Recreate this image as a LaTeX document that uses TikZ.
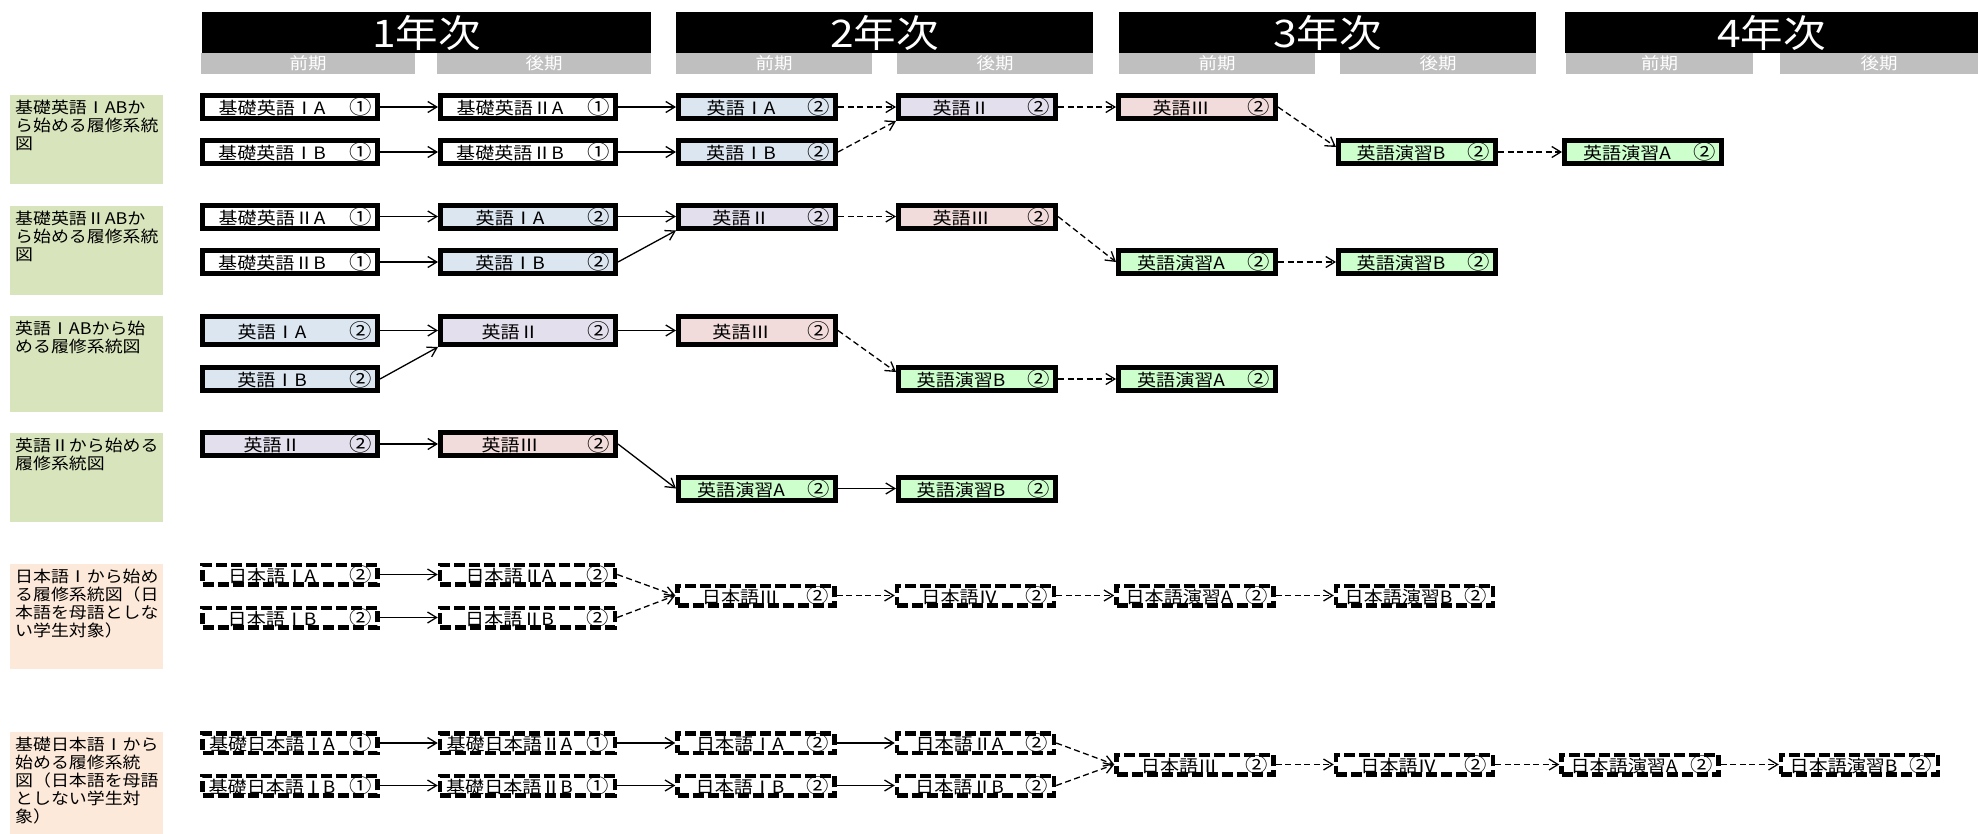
\documentclass[tikz,border=0pt]{standalone}
\usepackage{fontspec}
\setmainfont[FakeStretch=1.12]{Noto Sans CJK JP}
\usetikzlibrary{positioning, arrows.meta}
\definecolor{hdrgray}{RGB}{191,191,191}
\definecolor{lblgreen}{RGB}{216,228,188}
\definecolor{lblpeach}{RGB}{253,233,217}
\definecolor{e1blue}{RGB}{220,230,241}
\definecolor{e2lav}{RGB}{228,223,236}
\definecolor{e3pink}{RGB}{242,220,219}
\definecolor{ensgreen}{RGB}{204,255,204}
\newcommand{\kamoku}[2]{\makebox[0.78\linewidth][c]{#1}\hfill{\fontsize{20pt}{20pt}\selectfont#2}}
\tikzstyle{year} = [fill=black, text=white, inner sep=0pt, anchor=north west, minimum height=41pt, font=\fontsize{38pt}{42pt}\selectfont]
\tikzstyle{term} = [fill=hdrgray, text=white, inner sep=0pt, anchor=north west, minimum height=21pt, font=\fontsize{16.5pt}{18pt}\selectfont]
\tikzstyle{route} = [anchor=north west, text width=143pt, inner xsep=5pt, inner ysep=3pt, text height=15pt, align=left, font=\fontsize{16pt}{18pt}\selectfont]
\tikzstyle{course} = [draw=black, line width=5pt, inner xsep=6pt, inner ysep=1pt, minimum height=23pt, text width=145pt, font=\fontsize{17pt}{18pt}\selectfont]
\tikzstyle{wide} = [text width=163pt]
\tikzstyle{nihongo} = [course, fill=white, line width=4.5pt, dash pattern=on 11pt off 4pt, inner ysep=0pt, minimum height=19.5pt]
\tikzstyle{arrow} = [line width=1.3pt, -{Straight Barb[length=9pt,width=11pt]}]
\tikzstyle{darrow} = [arrow, dash pattern=on 6pt off 3.5pt]

\begin{document}
\begin{tikzpicture}
[x=1pt, y=-1pt, node distance=58pt]
\useasboundingbox (0,0) rectangle (1978,833);

% year headers
\node (y1) [year, minimum width=449pt] at (202,12) {1年次};
\node (y1f) [term, minimum width=214pt] at (201,53) {前期};
\node (y1l) [term, minimum width=214pt] at (437,53) {後期};
\node (y2) [year, minimum width=417pt] at (676,12) {2年次};
\node (y2f) [term, minimum width=196pt] at (676,53) {前期};
\node (y2l) [term, minimum width=196pt] at (897,53) {後期};
\node (y3) [year, minimum width=417pt] at (1119,12) {3年次};
\node (y3f) [term, minimum width=196pt] at (1119,53) {前期};
\node (y3l) [term, minimum width=196pt] at (1340,53) {後期};
\node (y4) [year, minimum width=413pt] at (1565,12) {4年次};
\node (y4f) [term, minimum width=187pt] at (1566,53) {前期};
\node (y4l) [term, minimum width=198pt] at (1780,53) {後期};

% route labels
\node (r1) [route, fill=lblgreen, text depth=68pt] at (10,95) {基礎英語ⅠABか\\ら始める履修系統\\図};
\node (r2) [route, fill=lblgreen, text depth=68pt] at (10,206) {基礎英語ⅡABか\\ら始める履修系統\\図};
\node (r3) [route, fill=lblgreen, text depth=75pt] at (10,316) {英語ⅠABから始\\める履修系統図};
\node (r4) [route, fill=lblgreen, text depth=68pt] at (10,433) {英語Ⅱから始める\\履修系統図};
\node (r5) [route, fill=lblpeach, text depth=84pt] at (10,564) {日本語Ⅰから始め\\る履修系統図（日\\本語を母語としな\\い学生対象）};
\node (r6) [route, fill=lblpeach, text depth=86pt] at (10,732) {基礎日本語Ⅰから\\始める履修系統\\図（日本語を母語\\としない学生対\\象）};

% group 1
\node (g1a1) [course, wide, fill=white] at (290,107) {\kamoku{基礎英語ⅠA}{①}};
\node (g1a2) [course, wide, fill=white, right=of g1a1] {\kamoku{基礎英語ⅡA}{①}};
\node (g1a3) [course, fill=e1blue, right=of g1a2] {\kamoku{英語ⅠA}{②}};
\node (g1a4) [course, fill=e2lav, right=of g1a3] {\kamoku{英語Ⅱ}{②}};
\node (g1a5) [course, fill=e3pink, right=of g1a4] {\kamoku{英語Ⅲ}{②}};
\node (g1b6) [course, fill=ensgreen, right=of g1a5, yshift=-45pt] {\kamoku{英語演習B}{②}};
\node (g1b7) [course, fill=ensgreen, right=of g1b6, xshift=6pt] {\kamoku{英語演習A}{②}};
\node (g1b1) [course, wide, fill=white] at (290,152) {\kamoku{基礎英語ⅠB}{①}};
\node (g1b2) [course, wide, fill=white, right=of g1b1] {\kamoku{基礎英語ⅡB}{①}};
\node (g1b3) [course, fill=e1blue, right=of g1b2] {\kamoku{英語ⅠB}{②}};

\draw [arrow] (g1a1) -- (g1a2);
\draw [arrow] (g1a2) -- (g1a3);
\draw [darrow] (g1a3) -- (g1a4);
\draw [darrow] (g1a4) -- (g1a5);
\draw [darrow] (g1a5.east) -- ([yshift=-9pt]g1b6.north west);
\draw [darrow] (g1b6) -- (g1b7);
\draw [arrow] (g1b1) -- (g1b2);
\draw [arrow] (g1b2) -- (g1b3);
\draw [darrow] (g1b3.east) -- (g1a4.south west);

% group 2
\node (g2a1) [course, wide, fill=white] at (290,216.5) {\kamoku{基礎英語ⅡA}{①}};
\node (g2a2) [course, wide, fill=e1blue, right=of g2a1] {\kamoku{英語ⅠA}{②}};
\node (g2a3) [course, fill=e2lav, right=of g2a2] {\kamoku{英語Ⅱ}{②}};
\node (g2a4) [course, fill=e3pink, right=of g2a3] {\kamoku{英語Ⅲ}{②}};
\node (g2b5) [course, fill=ensgreen, right=of g2a4, yshift=-45.5pt] {\kamoku{英語演習A}{②}};
\node (g2b6) [course, fill=ensgreen, right=of g2b5] {\kamoku{英語演習B}{②}};
\node (g2b1) [course, wide, fill=white] at (290,262) {\kamoku{基礎英語ⅡB}{①}};
\node (g2b2) [course, wide, fill=e1blue, right=of g2b1] {\kamoku{英語ⅠB}{②}};

\draw [arrow] (g2a1) -- (g2a2);
\draw [arrow] (g2a2) -- (g2a3);
\draw [darrow] (g2a3) -- (g2a4);
\draw [darrow] (g2a4.east) -- (g2b5.west);
\draw [darrow] (g2b5) -- (g2b6);
\draw [arrow] (g2b1) -- (g2b2);
\draw [arrow] (g2b2.east) -- (g2a3.south west);

% group 3
\node (g3a1) [course, wide, fill=e1blue, minimum height=28pt] at (290,330.5) {\kamoku{英語ⅠA}{②}};
\node (g3a2) [course, wide, fill=e2lav, minimum height=28pt, right=of g3a1] {\kamoku{英語Ⅱ}{②}};
\node (g3a3) [course, fill=e3pink, minimum height=28pt, right=of g3a2] {\kamoku{英語Ⅲ}{②}};
\node (g3b4) [course, fill=ensgreen, right=of g3a3, yshift=-48.5pt] {\kamoku{英語演習B}{②}};
\node (g3b5) [course, fill=ensgreen, right=of g3b4] {\kamoku{英語演習A}{②}};
\node (g3b1) [course, wide, fill=e1blue] at (290,379) {\kamoku{英語ⅠB}{②}};

\draw [arrow] (g3a1) -- (g3a2);
\draw [arrow] (g3a2) -- (g3a3);
\draw [darrow] (g3a3.east) -- ([yshift=-7pt]g3b4.north west);
\draw [darrow] (g3b4) -- (g3b5);
\draw [arrow] (g3b1.east) -- (g3a2.south west);

% group 4
\node (g4a1) [course, wide, fill=e2lav] at (290,444) {\kamoku{英語Ⅱ}{②}};
\node (g4a2) [course, wide, fill=e3pink, right=of g4a1] {\kamoku{英語Ⅲ}{②}};
\node (g4b3) [course, fill=ensgreen, right=of g4a2, yshift=-44.5pt] {\kamoku{英語演習A}{②}};
\node (g4b4) [course, fill=ensgreen, right=of g4b3] {\kamoku{英語演習B}{②}};

\draw [arrow] (g4a1) -- (g4a2);
\draw [arrow] (g4a2.east) -- (g4b3.west);
\draw [arrow] (g4b3) -- (g4b4);

% group 5
\node (g5a1) [nihongo, wide] at (290,574.5) {\kamoku{日本語ⅠA}{②}};
\node (g5a2) [nihongo, wide, right=of g5a1] {\kamoku{日本語ⅡA}{②}};
\node (g5m3) [nihongo, right=of g5a2, yshift=-21pt] {\kamoku{日本語Ⅲ}{②}};
\node (g5m4) [nihongo, right=of g5m3] {\kamoku{日本語Ⅳ}{②}};
\node (g5m5) [nihongo, right=of g5m4] {\kamoku{日本語演習A}{②}};
\node (g5m6) [nihongo, right=of g5m5] {\kamoku{日本語演習B}{②}};
\node (g5b1) [nihongo, wide] at (290,617.5) {\kamoku{日本語ⅠB}{②}};
\node (g5b2) [nihongo, wide, right=of g5b1] {\kamoku{日本語ⅡB}{②}};

\draw [arrow] (g5a1) -- (g5a2);
\draw [arrow] (g5b1) -- (g5b2);
\draw [darrow] (g5a2.east) -- (g5m3.west);
\draw [darrow] (g5b2.east) -- (g5m3.west);
\draw [darrow] (g5m3) -- (g5m4);
\draw [darrow] (g5m4) -- (g5m5);
\draw [darrow] (g5m5) -- (g5m6);

% group 6
\node (g6a1) [nihongo, wide] at (290,743) {\kamoku{基礎日本語ⅠA}{①}};
\node (g6a2) [nihongo, wide, right=of g6a1] {\kamoku{基礎日本語ⅡA}{①}};
\node (g6a3) [nihongo, right=of g6a2] {\kamoku{日本語ⅠA}{②}};
\node (g6a4) [nihongo, right=of g6a3] {\kamoku{日本語ⅡA}{②}};
\node (g6m5) [nihongo, right=of g6a4, yshift=-21.5pt] {\kamoku{日本語Ⅲ}{②}};
\node (g6m6) [nihongo, right=of g6m5] {\kamoku{日本語Ⅳ}{②}};
\node (g6m7) [nihongo, right=of g6m6, xshift=6pt] {\kamoku{日本語演習A}{②}};
\node (g6m8) [nihongo, right=of g6m7] {\kamoku{日本語演習B}{②}};
\node (g6b1) [nihongo, wide] at (290,785.5) {\kamoku{基礎日本語ⅠB}{①}};
\node (g6b2) [nihongo, wide, right=of g6b1] {\kamoku{基礎日本語ⅡB}{①}};
\node (g6b3) [nihongo, right=of g6b2] {\kamoku{日本語ⅠB}{②}};
\node (g6b4) [nihongo, right=of g6b3] {\kamoku{日本語ⅡB}{②}};

\draw [arrow] (g6a1) -- (g6a2);
\draw [arrow] (g6a2) -- (g6a3);
\draw [arrow] (g6a3) -- (g6a4);
\draw [arrow] (g6b1) -- (g6b2);
\draw [arrow] (g6b2) -- (g6b3);
\draw [arrow] (g6b3) -- (g6b4);
\draw [darrow] (g6a4.east) -- (g6m5.west);
\draw [darrow] (g6b4.east) -- (g6m5.west);
\draw [darrow] (g6m5) -- (g6m6);
\draw [darrow] (g6m6) -- (g6m7);
\draw [darrow] (g6m7) -- (g6m8);

\end{tikzpicture}
\end{document}
